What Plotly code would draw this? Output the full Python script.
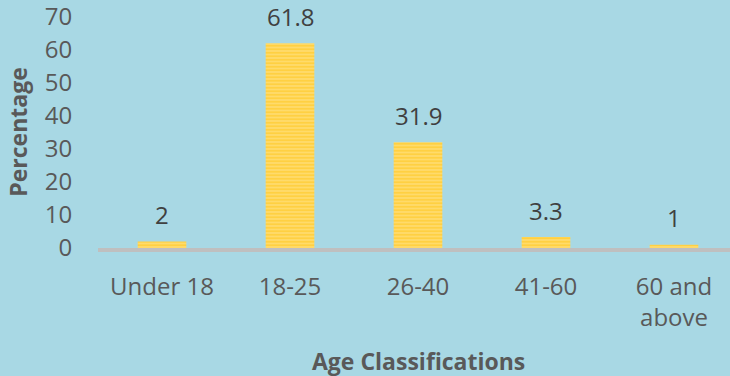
import plotly.graph_objects as go

categories = ["Under 18", "18-25", "26-40", "41-60", "60 and<br>above"]
values = [2, 61.8, 31.9, 3.3, 1]
value_labels = ["2", "61.8", "31.9", "3.3", "1"]
y_ticks = [0, 10, 20, 30, 40, 50, 60, 70]
x_title = "Age Classifications"
y_title = "Percentage"

FONT = "Open Sans"
BG = "#A8D8E4"

fig = go.Figure()
fig.add_trace(go.Bar(
    x=categories,
    y=values,
    width=0.38,
    marker=dict(
        color="#FFDF80",
        line=dict(width=0),
        pattern=dict(shape="-", fgcolor="#FFC000", bgcolor="#FFE185",
                     size=3.5, solidity=0.7, fillmode="overlay"),
    ),
    hoverinfo="x+y",
))

for c, v, t in zip(categories, values, value_labels):
    fig.add_annotation(x=c, y=v, text=t, showarrow=False, yanchor="middle",
                       yshift=27, font=dict(family=FONT, size=24, color="#404040"))

# x-axis title, centred under the middle category
fig.add_annotation(x=categories[2], y=0, xref="x", yref="y", text=f"<b>{x_title}</b>",
                   showarrow=False, yanchor="middle", yshift=-113,
                   font=dict(family=FONT, size=23, color="#595959"))

fig.update_layout(
    width=730, height=376,
    margin=dict(l=98, r=0, t=16, b=128),
    paper_bgcolor=BG, plot_bgcolor=BG,
    showlegend=False,
    font=dict(family=FONT, size=24, color="#595959"),
)
fig.update_xaxes(
    type="category",
    range=[-0.5, 4.4375],
    showline=True, linecolor="#BFBFBF", linewidth=4,
    showgrid=False, zeroline=False,
    ticks="outside", ticklen=14, tickcolor="rgba(0,0,0,0)",
    tickfont=dict(family=FONT, size=24, color="#595959"),
)
fig.update_yaxes(
    range=[0, 70.05], tickvals=y_ticks,
    showline=False, showgrid=False, zeroline=False,
    ticks="outside", ticklen=20, tickcolor="rgba(0,0,0,0)",
    ticklabeloverflow="allow",
    tickfont=dict(family=FONT, size=24, color="#595959"),
    title=dict(text=f"<b>{y_title}</b>", standoff=10,
               font=dict(family=FONT, size=23, color="#595959")),
)

fig.write_html("out.html")
